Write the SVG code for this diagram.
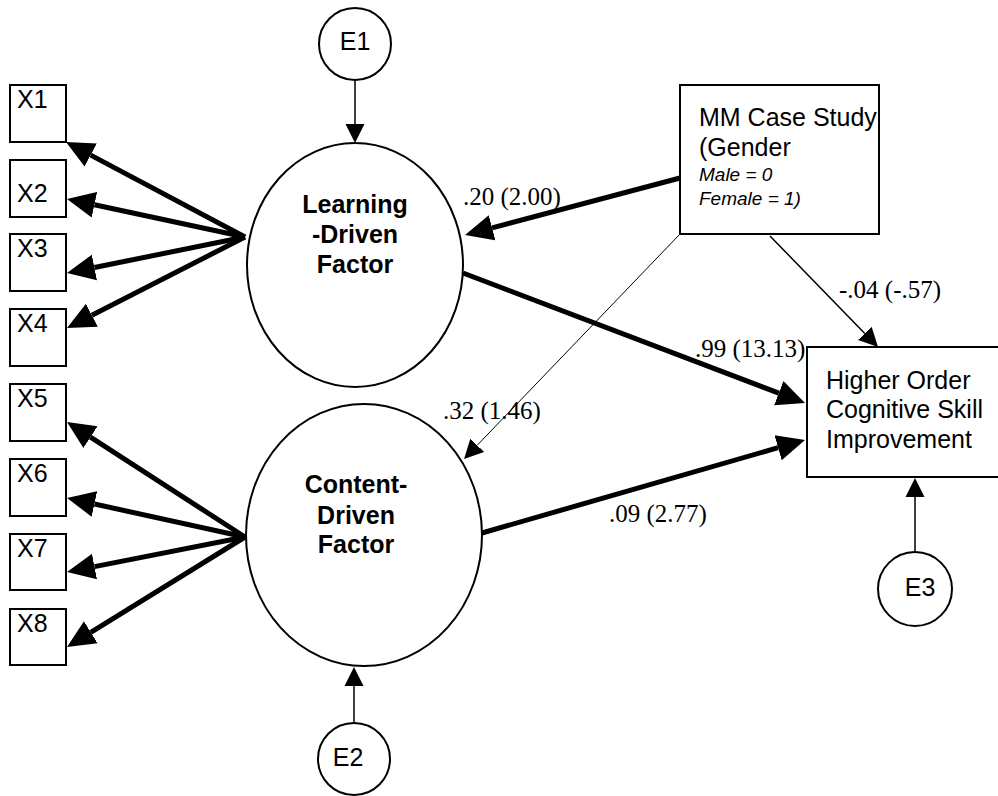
<svg xmlns="http://www.w3.org/2000/svg" width="998" height="796" viewBox="0 0 998 796">
<style>
.box{fill:#fff;stroke:#000;stroke-width:2}
.ell{fill:#fff;stroke:#000;stroke-width:2}
.sans{font-family:"Liberation Sans",Arial,sans-serif;font-size:25px;fill:#000}
.bold{font-family:"Liberation Sans",Arial,sans-serif;font-size:25px;font-weight:bold;fill:#000}
.ital{font-family:"Liberation Sans",Arial,sans-serif;font-size:19px;font-style:italic;fill:#000}
.num{font-family:"Liberation Serif","Times New Roman",serif;font-size:25px;fill:#000}
.thick{stroke:#000;stroke-width:5;fill:none;marker-end:url(#ah)}
.thin{stroke:#000;stroke-width:1.5;fill:none;marker-end:url(#as)}
.hair{stroke:#000;stroke-width:1;fill:none;marker-end:url(#as)}
</style>
<defs>
<marker id="ah" markerUnits="userSpaceOnUse" markerWidth="30" markerHeight="28" refX="0" refY="14" orient="auto" viewBox="0 0 30 28">
<path d="M0,1 L28,14 L0,27 z" fill="#000"/>
</marker>
<marker id="as" markerUnits="userSpaceOnUse" markerWidth="20" markerHeight="20" refX="0" refY="10" orient="auto" viewBox="0 0 20 20">
<path d="M0,0.5 L19,10 L0,19.5 z" fill="#000"/>
</marker>
</defs>
<rect width="998" height="796" fill="#fff"/>
<g id="connectors">
<line class="thick" x1="245" y1="237" x2="90.7" y2="155.1"/>
<line class="thick" x1="245" y1="237" x2="94.4" y2="204.8"/>
<line class="thick" x1="245" y1="237" x2="94.4" y2="267.5"/>
<line class="thick" x1="245" y1="237" x2="91.9" y2="315.3"/>
<line class="thick" x1="245" y1="537" x2="90.5" y2="437.2"/>
<line class="thick" x1="245" y1="537" x2="94.4" y2="504"/>
<line class="thick" x1="245" y1="537" x2="94.5" y2="566.6"/>
<line class="thick" x1="245" y1="537" x2="90.8" y2="632.3"/>
<line class="thick" x1="680" y1="178" x2="492.1" y2="227.8"/>
<line class="thick" x1="463" y1="273" x2="778.8" y2="393.1"/>
<line class="thick" x1="482" y1="533" x2="778.1" y2="447.7"/>
<line class="thin" x1="355" y1="80" x2="355" y2="124"/>
<line class="thin" x1="354" y1="723" x2="354" y2="686"/>
<line class="thin" x1="915" y1="552" x2="915" y2="497"/>
<line class="hair" x1="680" y1="234" x2="477.2" y2="445.3"/>
<line class="thin" x1="770" y1="236" x2="864.8" y2="333.4"/>
<text class="num" x="463" y="205">.20 (2.00)</text>
<text class="num" x="695" y="357">.99 (13.13)</text>
<text class="num" x="839" y="298">-.04 (-.57)</text>
<text class="num" x="443" y="419">.32 (1.46)</text>
<text class="num" x="609" y="522">.09 (2.77)</text>
</g>
<g id="X1"><rect class="box" x="10" y="85" width="56" height="57"/><text class="sans" x="17" y="108">X1</text></g>
<g id="X2"><rect class="box" x="10" y="160" width="56" height="57"/><text class="sans" x="17" y="202">X2</text></g>
<g id="X3"><rect class="box" x="10" y="234" width="56" height="57"/><text class="sans" x="17" y="257">X3</text></g>
<g id="X4"><rect class="box" x="10" y="309" width="56" height="57"/><text class="sans" x="17" y="332">X4</text></g>
<g id="X5"><rect class="box" x="10" y="384" width="56" height="57"/><text class="sans" x="17" y="407">X5</text></g>
<g id="X6"><rect class="box" x="10" y="459" width="56" height="57"/><text class="sans" x="17" y="482">X6</text></g>
<g id="X7"><rect class="box" x="10" y="534" width="56" height="56"/><text class="sans" x="17" y="557">X7</text></g>
<g id="X8"><rect class="box" x="10" y="609" width="56" height="56"/><text class="sans" x="17" y="632">X8</text></g>
<g id="E1"><circle class="ell" cx="355" cy="44" r="36"/><text class="sans" x="355" y="50" text-anchor="middle">E1</text></g>
<g id="E2"><circle class="ell" cx="354" cy="759" r="36"/><text class="sans" x="348" y="766" text-anchor="middle">E2</text></g>
<g id="E3"><circle class="ell" cx="915" cy="589" r="37"/><text class="sans" x="920" y="596" text-anchor="middle">E3</text></g>
<g id="learning"><ellipse class="ell" cx="355" cy="265" rx="108" ry="122"/>
<text class="bold" x="355" y="213" text-anchor="middle">Learning</text>
<text class="bold" x="355" y="243" text-anchor="middle">-Driven</text>
<text class="bold" x="355" y="273" text-anchor="middle">Factor</text></g>
<g id="content"><ellipse class="ell" cx="364" cy="535" rx="118" ry="131"/>
<text class="bold" x="356" y="493" text-anchor="middle">Content-</text>
<text class="bold" x="356" y="524" text-anchor="middle">Driven</text>
<text class="bold" x="356" y="553" text-anchor="middle">Factor</text></g>
<g id="mm"><rect class="box" x="680" y="85" width="199" height="149"/>
<text class="sans" x="699" y="126">MM Case Study</text>
<text class="sans" x="699" y="156">(Gender</text>
<text class="ital" x="699" y="181">Male = 0</text>
<text class="ital" x="699" y="205">Female = 1)</text></g>
<g id="higher"><rect class="box" x="807" y="347" width="200" height="130"/>
<text class="sans" x="826" y="389">Higher Order</text>
<text class="sans" x="826" y="418">Cognitive Skill</text>
<text class="sans" x="826" y="448">Improvement</text></g>
</svg>
